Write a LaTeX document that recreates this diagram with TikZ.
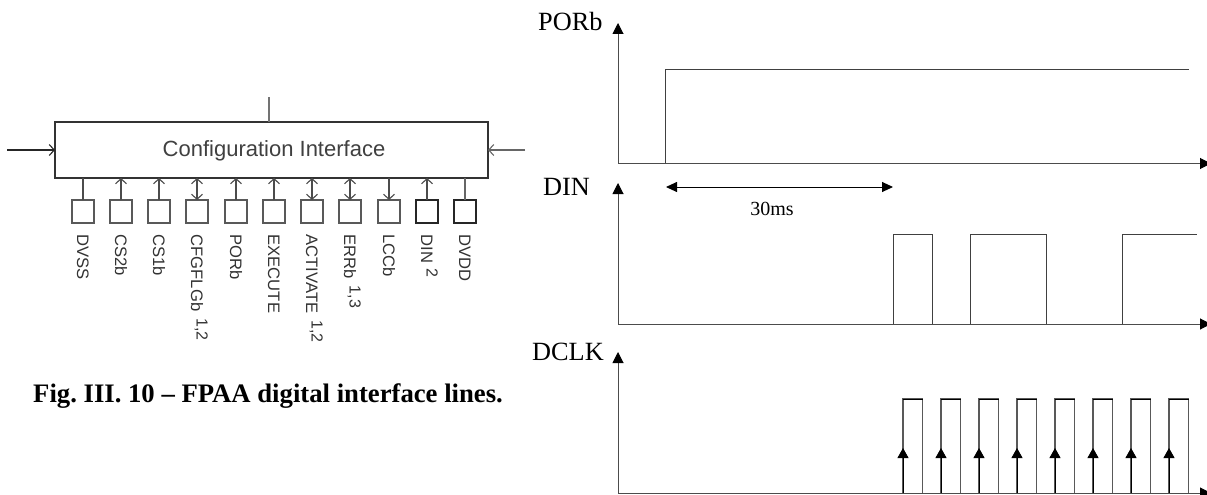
\documentclass[tikz,border=0pt]{standalone}
\usepackage{fontspec}
\setmainfont{Liberation Serif}
\newfontfamily\arialf{Liberation Sans}
\usetikzlibrary{arrows.meta,calc}
\newcommand\pinsup[2]{\hspace{#1}\raisebox{5.7pt}{\fontsize{16}{18}\selectfont #2}}
\tikzset{
  pinbox/.style={draw=black!65,line width=1.3pt,minimum width=22pt,minimum height=23pt,inner sep=0pt,outer sep=0pt},
  pinboxd/.style={pinbox,draw=black!85,line width=1.7pt},
  pinwire/.style={draw=black!70,line width=1.2pt},
  wtip/.tip={Straight Barb[length=5pt,width=11pt,line width=1.1pt]},
  pinlabel/.style={font=\arialf\fontsize{16.6}{18}\selectfont,text=black!80,rotate=-90,anchor=base west,inner sep=0pt},
  axis/.style={draw=black!70,line width=1pt,-{Triangle[length=11pt,width=11pt,black]}},
  sig/.style={draw=black!75,line width=1pt},
  tlabel/.style={font=\fontsize{26.3}{30}\selectfont,inner sep=0pt,anchor=base west},
  edgetip/.style={draw=black,line width=.9pt,-{Triangle[length=10pt,width=11pt]}}
}
\begin{document}
\begin{tikzpicture}[x=1pt,y=-1pt]
\useasboundingbox (0,0) rectangle (1207,495);
\fill[white] (0,0) rectangle (1207,495);
% block
\node[draw=black!80,line width=1.7pt,minimum width=433pt,minimum height=56pt,inner sep=0pt,outer sep=0pt] (cfg) at (271.5,150) {};
\node[font=\arialf\fontsize{22}{24}\selectfont,text=black!75,inner sep=0pt,anchor=base] (cfgtext) at (274,156) {Configuration Interface};
\coordinate (topstub) at (269,97);
\draw[pinwire,draw=black!55] (topstub) -- (topstub |- cfg.north);
\coordinate (leftin) at (7,150);
\coordinate (rightin) at (525,150);
\draw[pinwire,draw=black!85,-{wtip}] (leftin) -- (cfg.west);
\draw[pinwire,draw=black!60,-{wtip}] (rightin) -- (cfg.east);
% pins
\foreach \n/\x/\lab/\sty in {
 a/83/DVSS/pinbox,b/121/CS2b/pinbox,c/159/CS1b/pinbox,d/197/{CFGFLGb\pinsup{7pt}{1,2}}/pinbox,
 e/236/PORb/pinbox,f/274/EXECUTE/pinbox,g/312/{ACTIVATE\pinsup{7pt}{1,2}}/pinbox,h/350/{ERRb\pinsup{7pt}{1,3}}/pinbox,
 i/389/LCCb/pinbox,j/427/{DIN\pinsup{5pt}{2}}/pinboxd,k/465/DVDD/pinboxd}{
  \node[\sty] (p\n) at (\x,211.5) {};
  \node[pinlabel] (l\n) at (\x-6,234.5) {\lab};
}
\draw[pinwire] (pa.north) -- (pa.north |- cfg.south);
\draw[pinwire,draw=black!60] (pk.north) -- (pk.north |- cfg.south);
\foreach \n in {b,c,e,f,j}{\draw[pinwire,-{wtip}] (p\n.north) -- (p\n.north |- cfg.south);}
\foreach \n in {d,g,h}{\draw[pinwire,{wtip}-{wtip}] (p\n.north) -- (p\n.north |- cfg.south);}
\draw[pinwire,-{wtip}] (pi.north |- cfg.south) -- (pi.north);
% caption
\node[font=\bfseries\fontsize{26.7}{30}\selectfont,inner sep=0pt,anchor=base west] (cap) at (33,402) {\frenchspacing Fig. III. 10 -- FPAA digital interface lines.};
% timing axes
\foreach \n/\yb/\yt in {por/163.5/23,din/324/183,clk/493/352}{
  \coordinate (o\n) at (618,\yb);
  \coordinate (t\n) at (618,\yt);
  \coordinate (r\n) at (1211,\yb);
  \draw[axis] (o\n) -- (t\n);
  \draw[axis] (o\n) -- (r\n);
}
\node[tlabel] (lpor) at (538,31) {PORb};
\node[tlabel] (ldin) at (543,195) {DIN};
\node[tlabel] (lclk) at (532,360) {DCLK};
% PORb
\draw[sig] (665.5,163) -- (665.5,70) -- (1189,70);
% 30ms
\coordinate (ma) at (666,187);
\coordinate (mb) at (893,187);
\draw[draw=black,line width=.9pt,{Triangle[length=11pt,width=10pt]}-{Triangle[length=11pt,width=10pt]}] (ma) -- (mb);
\node[font=\fontsize{20}{22}\selectfont,inner sep=0pt] (ms) at (772,209) {30ms};
% DIN
\draw[sig] (893,324) -- (893,234) -- (932,234) -- (932,324);
\draw[sig] (970,324) -- (970,234) -- (1046,234) -- (1046,324);
\draw[sig] (1122,324) -- (1122,234) -- (1197,234);
% DCLK
\foreach \x in {903,941,979,1017,1055,1093,1131,1169}{
  \draw[draw=black!65,line width=1.1pt] (\x,493) -- (\x,399) -- (\x+19.5,399) -- (\x+19.5,493);
  \draw[draw=black,line width=.9pt] (\x,399) -- (\x+19.5,399);
  \coordinate (ea\x) at (\x,493);
  \coordinate (eb\x) at (\x,448);
  \draw[edgetip] (ea\x) -- (eb\x);
}
\end{tikzpicture}
\end{document}
